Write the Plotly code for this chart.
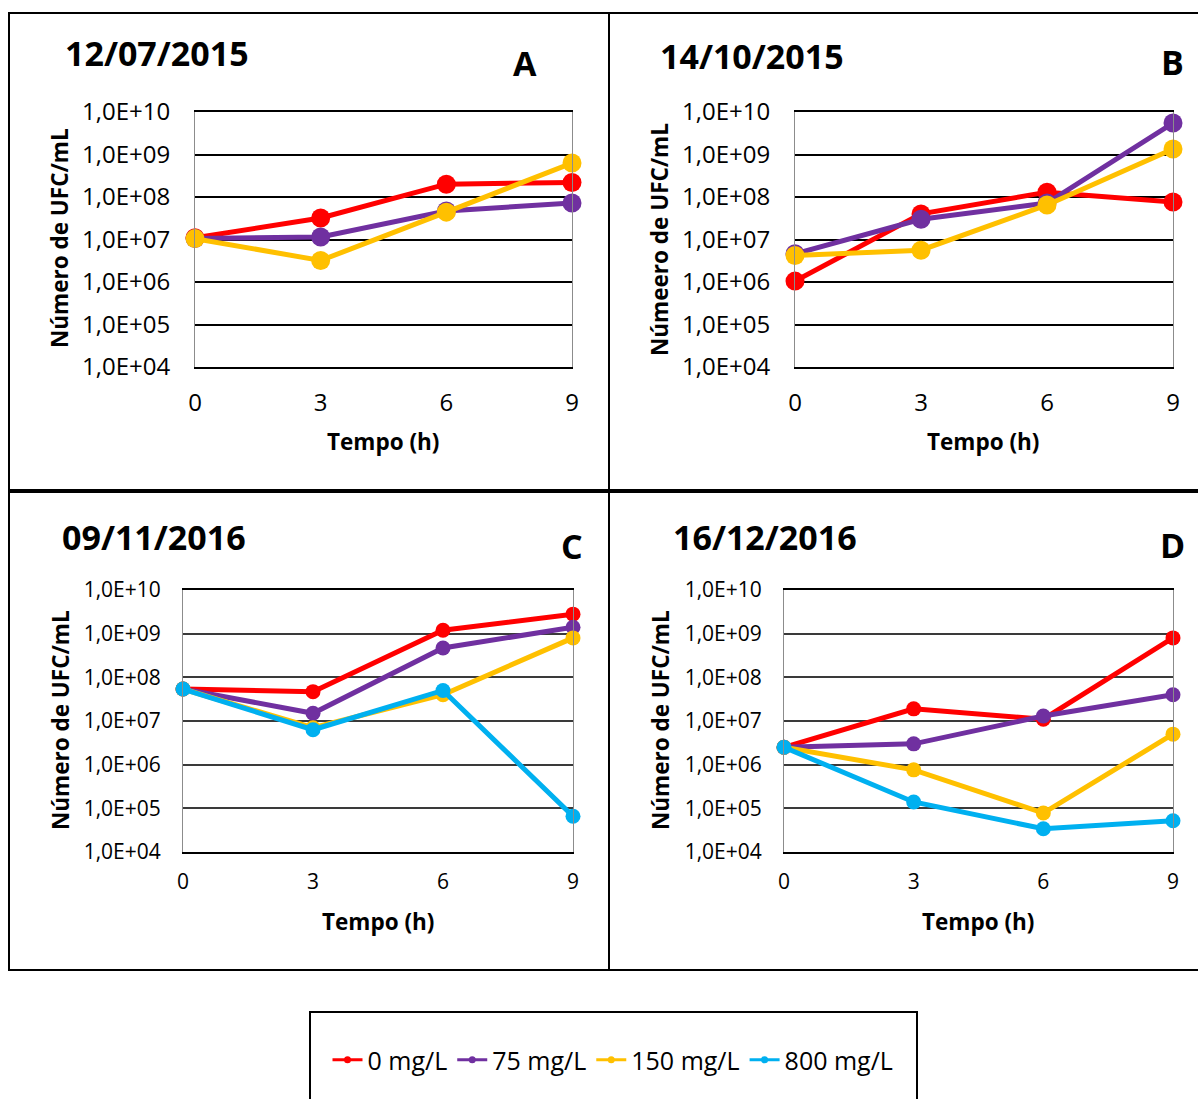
import plotly.graph_objects as go

W, H = 1198, 1099

tempo = [0, 3, 6, 9]
tick_vals = [1e4, 1e5, 1e6, 1e7, 1e8, 1e9, 1e10]
tick_text = ["1,0E+04", "1,0E+05", "1,0E+06", "1,0E+07", "1,0E+08", "1,0E+09", "1,0E+10"]

series_names = ["0 mg/L", "75 mg/L", "150 mg/L", "800 mg/L"]
series_colors = ["#FF0000", "#7030A0", "#FFC000", "#00B0F0"]

# Panel A - 12/07/2015
a_0 = [1.1e7, 3.2e7, 2.0e8, 2.2e8]
a_75 = [1.05e7, 1.15e7, 4.7e7, 7.2e7]
a_150 = [1.05e7, 3.2e6, 4.4e7, 6.3e8]

# Panel B - 14/10/2015
b_0 = [1.05e6, 4.0e7, 1.3e8, 7.6e7]
b_75 = [4.6e6, 3.0e7, 7.2e7, 5.5e9]
b_150 = [4.2e6, 5.6e6, 6.5e7, 1.35e9]

# Panel C - 09/11/2016
c_0 = [5.4e7, 4.7e7, 1.2e9, 2.8e9]
c_75 = [5.4e7, 1.5e7, 4.7e8, 1.4e9]
c_150 = [5.4e7, 7.0e6, 4.0e7, 8.0e8]
c_800 = [5.4e7, 6.3e6, 5.0e7, 6.6e4]

# Panel D - 16/12/2016
d_0 = [2.5e6, 1.9e7, 1.1e7, 8.0e8]
d_75 = [2.5e6, 3.0e6, 1.3e7, 4.0e7]
d_150 = [2.5e6, 7.6e5, 7.8e4, 5.0e6]
d_800 = [2.5e6, 1.4e5, 3.4e4, 5.2e4]

# top row uses larger tick text; bottom row is slightly more compact
top_style = dict(msize=19, lw=5, tick_size=24, y_standoff=19, x_standoff=13, grid="#000000")
bottom_style = dict(msize=15, lw=5, tick_size=21, y_standoff=17, x_standoff=10, grid="#3a3a3a")

panels = [
    dict(key="", date="12/07/2015", letter="A", ytitle="Número de UFC/mL",
         series=[a_0, a_75, a_150], box=(195, 572, 112, 367),
         date_pos=(63, 53), letter_pos=(525, 63), ytitle_pos=(60, 238), xtitle_pos=(383, 441),
         **top_style),
    dict(key="2", date="14/10/2015", letter="B", ytitle="Númeero de UFC/mL",
         series=[b_0, b_75, b_150], box=(795, 1173, 112, 367),
         date_pos=(658, 56), letter_pos=(1172, 62), ytitle_pos=(660, 240), xtitle_pos=(983, 441),
         **top_style),
    dict(key="3", date="09/11/2016", letter="C", ytitle="Número de UFC/mL",
         series=[c_0, c_75, c_150, c_800], box=(183, 573, 590, 852),
         date_pos=(60, 537), letter_pos=(572, 546), ytitle_pos=(60, 720), xtitle_pos=(378, 921),
         **bottom_style),
    dict(key="4", date="16/12/2016", letter="D", ytitle="Número de UFC/mL",
         series=[d_0, d_75, d_150, d_800], box=(784, 1173, 590, 852),
         date_pos=(671, 537), letter_pos=(1172, 545), ytitle_pos=(660, 720), xtitle_pos=(978, 921),
         **bottom_style),
]

FONT = "Open Sans"


def px(x):
    return x / W


def py(y):
    return 1 - y / H


fig = go.Figure()
layout_axes = {}
annotations = []

for p in panels:
    k = p["key"]
    x0, x1, y0, y1 = p["box"]
    for i, vals in enumerate(p["series"]):
        fig.add_trace(go.Scatter(
            x=tempo, y=vals, mode="lines+markers",
            name=series_names[i], showlegend=False,
            line=dict(color=series_colors[i], width=p["lw"]),
            marker=dict(color=series_colors[i], size=p["msize"]),
            xaxis="x" + k, yaxis="y" + k, cliponaxis=False,
        ))
    layout_axes["xaxis" + k] = dict(
        domain=[px(x0), px(x1)], anchor="y" + k, range=[0, 9],
        tickvals=tempo, ticktext=[str(t) for t in tempo],
        showgrid=False, zeroline=False,
        showline=True, mirror=True, linecolor="#000000", linewidth=2,
        ticks="", ticklabelstandoff=p["x_standoff"],
        tickfont=dict(family=FONT, size=p["tick_size"], color="#000000"),
    )
    layout_axes["yaxis" + k] = dict(
        domain=[py(y1), py(y0)], anchor="x" + k, type="log", range=[4, 10],
        tickvals=tick_vals, ticktext=tick_text,
        showgrid=True, gridcolor=p["grid"], gridwidth=1.5, zeroline=False,
        showline=True, mirror=True, linecolor="#8c8c8c", linewidth=1,
        ticks="", ticklabelstandoff=p["y_standoff"],
        tickfont=dict(family=FONT, size=p["tick_size"], color="#000000"),
    )
    annotations += [
        dict(text="<b>%s</b>" % p["date"], x=px(p["date_pos"][0]), y=py(p["date_pos"][1]),
             xref="paper", yref="paper", xanchor="left", yanchor="middle", showarrow=False,
             font=dict(family=FONT, size=34, color="#000000")),
        dict(text="<b>%s</b>" % p["letter"], x=px(p["letter_pos"][0]), y=py(p["letter_pos"][1]),
             xref="paper", yref="paper", xanchor="center", yanchor="middle", showarrow=False,
             font=dict(family=FONT, size=34, color="#000000")),
        dict(text="<b>%s</b>" % p["ytitle"], x=px(p["ytitle_pos"][0]), y=py(p["ytitle_pos"][1]),
             xref="paper", yref="paper", xanchor="center", yanchor="middle", showarrow=False,
             textangle=-90, font=dict(family=FONT, size=22.5, color="#000000")),
        dict(text="<b>Tempo (h)</b>", x=px(p["xtitle_pos"][0]), y=py(p["xtitle_pos"][1]),
             xref="paper", yref="paper", xanchor="center", yanchor="middle", showarrow=False,
             font=dict(family=FONT, size=22.5, color="#000000")),
    ]

# legend entries with small markers
for name, color in zip(series_names, series_colors):
    fig.add_trace(go.Scatter(
        x=[None], y=[None], mode="lines+markers", name=name, showlegend=True,
        line=dict(color=color, width=3), marker=dict(color=color, size=7),
        xaxis="x", yaxis="y",
    ))

# frames around each panel and around the legend
frames = [(9, 13, 609, 490), (609, 13, 1202, 490), (9, 492, 609, 970),
          (609, 492, 1202, 970), (310, 1012, 917, 1104)]
shapes = [dict(type="rect", xref="paper", yref="paper",
               x0=px(a), x1=px(c), y0=py(d), y1=py(b),
               line=dict(color="#000000", width=2), fillcolor="rgba(0,0,0,0)")
          for a, b, c, d in frames]

fig.update_layout(
    width=W, height=H, margin=dict(l=0, r=0, t=0, b=0, autoexpand=False),
    paper_bgcolor="#ffffff", plot_bgcolor="#ffffff",
    font=dict(family=FONT, color="#000000"),
    showlegend=True,
    legend=dict(orientation="h", x=px(613), y=py(1060), xanchor="center", yanchor="middle",
                font=dict(family=FONT, size=25, color="#000000"),
                bgcolor="rgba(0,0,0,0)", itemwidth=30, tracegroupgap=0),
    annotations=annotations, shapes=shapes,
    **layout_axes,
)

fig.write_html("out.html")
